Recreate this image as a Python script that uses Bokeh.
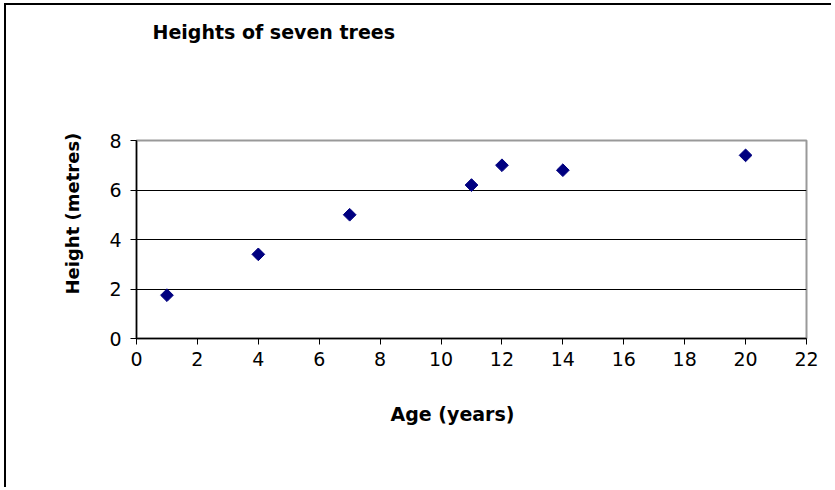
from bokeh.plotting import figure
from bokeh.models import Range1d, FixedTicker, ColumnDataSource, Title
from bokeh.embed import file_html
from bokeh.resources import INLINE
import math

# Data
age_years = [1, 4, 7, 11, 12, 14, 20]
height_metres = [1.75, 3.4, 5.0, 6.2, 7.0, 6.8, 7.4]
x_ticks = [0, 2, 4, 6, 8, 10, 12, 14, 16, 18, 20, 22]
y_ticks = [0, 2, 4, 6, 8]
title_text = "Heights of seven trees"
x_label = "Age (years)"
y_label = "Height (metres)"

source = ColumnDataSource(data=dict(x=age_years, y=height_metres))

p = figure(width=827, height=484, output_backend="svg", toolbar_location=None,
           x_range=Range1d(0, 22), y_range=Range1d(0, 8),
           min_border_left=130, min_border_right=27,
           min_border_top=135, min_border_bottom=151)

# main title (outermost in the top panel)
p.title.text = title_text
p.title.text_font = "DejaVu Sans"
p.title.text_font_style = "bold"
p.title.text_font_size = "19px"
p.title.text_color = "black"
p.title.align = "left"
p.title.offset = 16
p.title.standoff = 24

# blank spacer between the title and the plot area
spacer = Title(text=" ", text_font_size="10px", standoff=73)
p.add_layout(spacer, "above")

p.scatter("x", "y", source=source, marker="square", size=9, angle=math.pi / 4,
          fill_color="#000080", line_color="#000080")

p.outline_line_color = "#999999"
p.outline_line_width = 2
p.background_fill_color = "white"
p.border_fill_color = "white"

for ax, ticks in ((p.xaxis[0], x_ticks), (p.yaxis[0], y_ticks)):
    ax.ticker = FixedTicker(ticks=ticks)
    ax.minor_tick_line_color = None
    ax.major_tick_out = 6
    ax.major_tick_in = 0
    ax.major_tick_line_color = "black"
    ax.axis_line_color = "black"
    ax.axis_line_width = 1.5
    ax.major_label_text_font = "DejaVu Sans"
    ax.major_label_text_font_size = "19px"
    ax.major_label_text_color = "black"

p.xaxis.major_label_standoff = 7
p.yaxis.major_label_standoff = 9

xtitle = Title(text=x_label, align="left", offset=254, standoff=68,
               vertical_align="top",
               text_font="DejaVu Sans", text_font_style="bold",
               text_font_size="19px", text_color="black")
p.add_layout(xtitle, "below")

ytitle = Title(text=y_label, align="left", offset=44, standoff=48,
               text_font="DejaVu Sans", text_font_style="bold",
               text_font_size="18px", text_color="black")
p.add_layout(ytitle, "left")

p.xgrid.grid_line_color = None
p.ygrid.grid_line_color = "black"
p.ygrid.grid_line_width = 1

p.styles = {"border-left": "2px solid black", "border-top": "2px solid black",
            "margin-left": "4px", "margin-top": "3px"}

open("out.html", "w").write(file_html(p, INLINE))
